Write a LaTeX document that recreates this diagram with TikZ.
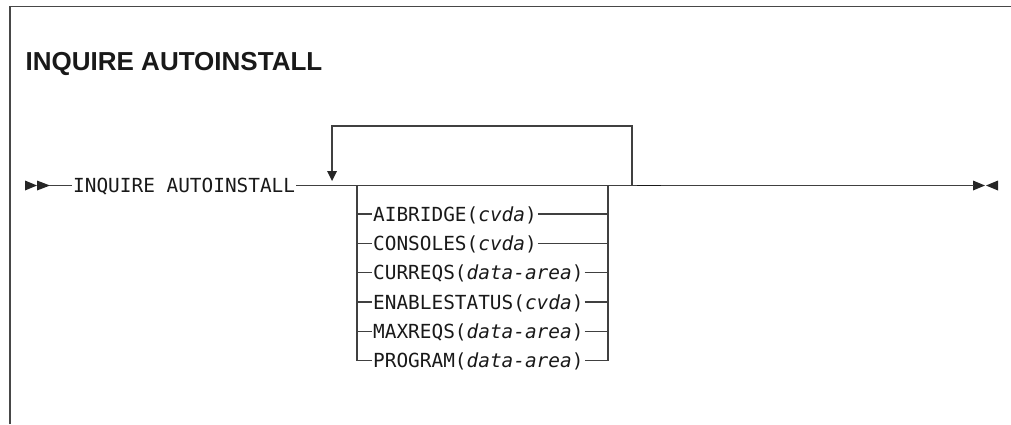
\documentclass[tikz,border=0pt]{standalone}
\usepackage{fontspec}
\setmainfont{Liberation Sans}
\newfontfamily\monof{DejaVu Sans Mono}
\begin{document}
\begin{tikzpicture}[x=1pt,y=-1pt,
  ln/.style={line width=1.3pt,draw=black!75},
  opt/.style={font=\monof\fontsize{19.4}{20}\selectfont, inner xsep=1pt, inner ysep=0pt,
     text height=14.2pt, text depth=0pt, anchor=west, text=black!90},
  tipfill/.style={fill=black!85, draw=none}]
\useasboundingbox (0,0) rectangle (1011,424);
% frame
\draw[line width=1.6pt, black!72] (10,424) -- (10,6.5) -- (1011,6.5);
% title
\node[anchor=base west, inner sep=0pt, text=black!90,
      font=\bfseries\fontsize{26}{30}\selectfont] (title) at (25.5,70) {INQUIRE AUTOINSTALL};
% start and end marks
\fill[tipfill] (25,180.5) -- (37,185.5) -- (25,190.5) -- cycle;
\fill[tipfill] (37,180.5) -- (50,185.5) -- (37,190.5) -- cycle;
\fill[tipfill] (973,180.5) -- (985,185.5) -- (973,190.5) -- cycle;
\fill[tipfill] (998,180.5) -- (986,185.5) -- (998,190.5) -- cycle;
\coordinate (s) at (49,185.5);
\coordinate (e) at (974,185.5);
% command
\node[opt] (cmd) at (72,185.5) {INQUIRE AUTOINSTALL};
% options
\node[opt] (o1) at (372,214.0) {AIBRIDGE(\textit{cvda})};
\node[opt] (o2) at (372,243.3) {CONSOLES(\textit{cvda})};
\node[opt] (o3) at (372,272.6) {CURREQS(\textit{data-area})};
\node[opt] (o4) at (372,301.9) {ENABLESTATUS(\textit{cvda})};
\node[opt] (o5) at (372,331.2) {MAXREQS(\textit{data-area})};
\node[opt] (o6) at (372,360.5) {PROGRAM(\textit{data-area})};
\coordinate (jL) at (357,185.5);
\coordinate (jR) at (608,185.5);
\coordinate (bL) at (357,360.5);
\coordinate (bR) at (608,360.5);
% main line
\draw[ln] (s) -- (cmd.west);
\draw[ln] (cmd.east) -- (e);
\coordinate (k1) at (637,185.5);
\coordinate (k2) at (661,185.5);
\draw[line width=1.9pt, black!90] (k1) -- (k2);
% stack
\draw[ln] (jL) -- (bL) -- (o6.west);
\draw[ln] (jR) -- (bR) -- (o6.east);
\foreach \o in {o1,o2,o3,o4,o5} {
  \draw[ln] (\o.west -| jL) -- (\o.west);
  \draw[ln] (\o.east) -- (\o.east -| jR);
}
% repeat loop
\coordinate (lRb) at (632,185.5);
\coordinate (lR) at (632,126);
\coordinate (lL) at (332,126);
\coordinate (lT) at (332,172);
\draw[ln] (lRb) -- (lR) -- (lL) -- (lT);
\fill[tipfill] (327,171) -- (337,171) -- (332,181) -- cycle;
\end{tikzpicture}
\end{document}
